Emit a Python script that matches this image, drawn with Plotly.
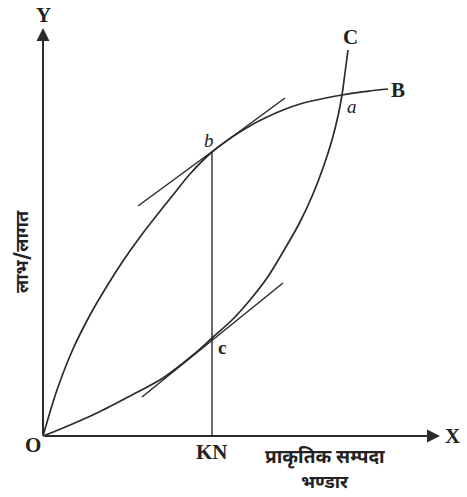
import plotly.graph_objects as go

# Benefit curve OB (concave)
benefit_x = [0, 14, 30, 47, 64, 80, 97, 114, 130, 147, 169, 200, 224, 257, 299, 327, 345]
benefit_y = [0, 46, 87, 121, 150, 175, 199, 221, 241, 262, 284, 306, 319, 332, 341, 345, 347]

# Cost curve OC (convex)
cost_x = [0, 20, 54, 87, 120, 150, 169, 190, 207, 224, 240, 257, 270, 280, 289, 295, 299, 302, 305]
cost_y = [0, 8, 23, 40, 58, 81, 98, 117, 136, 158, 184, 214, 242, 268, 296, 320, 341, 363, 386]

# Tangent lines at b and c
tan_b_x = [95, 242]
tan_b_y = [230, 338]
tan_c_x = [99, 240]
tan_c_y = [39, 153]

# Optimum stock KN
kn_x = [169, 169]
kn_y = [0, 284]

# Axis extents
x_axis_end = 397
y_axis_end = 408

LINE = "#2b2b2b"
SERIF = "Liberation Serif, DejaVu Serif, serif"
HINDI = "Noto Sans Devanagari, Noto Sans, sans-serif"

fig = go.Figure()

def line(x, y, w=1.7, shape="spline"):
    fig.add_trace(go.Scatter(x=x, y=y, mode="lines",
                             line=dict(color=LINE, width=w, shape=shape, smoothing=0.9),
                             hoverinfo="skip", showlegend=False))

line(benefit_x, benefit_y)
line(cost_x, cost_y)
line(tan_b_x, tan_b_y, 1.5, "linear")
line(tan_c_x, tan_c_y, 1.5, "linear")
line(kn_x, kn_y, 1.4, "linear")

# Axes with arrows
fig.add_annotation(x=x_axis_end, y=0, ax=0, ay=0, xref="x", yref="y", axref="x", ayref="y",
                   showarrow=True, arrowhead=2, arrowsize=1.3, arrowwidth=2, arrowcolor=LINE, text="")
fig.add_annotation(x=0, y=y_axis_end, ax=0, ay=0, xref="x", yref="y", axref="x", ayref="y",
                   showarrow=True, arrowhead=2, arrowsize=1.3, arrowwidth=2, arrowcolor=LINE, text="")

def label(x, y, t, size=21, font=SERIF, angle=0, bold=True, italic=False):
    txt = t
    if bold:
        txt = "<b>" + txt + "</b>"
    if italic:
        txt = "<i>" + txt + "</i>"
    fig.add_annotation(x=x, y=y, xref="x", yref="y", text=txt, showarrow=False,
                       font=dict(family=font, size=size, color="#222"), textangle=angle)

label(0, 421, "Y")
label(409, 0, "X")
label(-10, -9, "O")
label(169, -16, "KN")
label(355, 346, "B")
label(307, 399, "C")
label(309, 330, "a", italic=True, size=19, bold=False)
label(166, 296, "b", italic=True, size=19, bold=False)
label(179, 89, "c", size=19)
label(282, -22, "प्राकृतिक सम्पदा", size=19, font=HINDI, bold=True)
label(282, -47, "भण्डार", size=18, font=HINDI, bold=True)
label(-20, 184, "लाभ/लागत", size=18, font=HINDI, angle=-90, bold=True)

fig.update_xaxes(range=[-43, 424], visible=False, fixedrange=True)
fig.update_yaxes(range=[-61, 436], visible=False, fixedrange=True)
fig.update_layout(width=467, height=497, margin=dict(l=0, r=0, t=0, b=0),
                  plot_bgcolor="white", paper_bgcolor="white")

fig.write_html("out.html", post_script="document.body.style.margin='0px';document.body.style.padding='0px';",
               config={"displayModeBar": False})
